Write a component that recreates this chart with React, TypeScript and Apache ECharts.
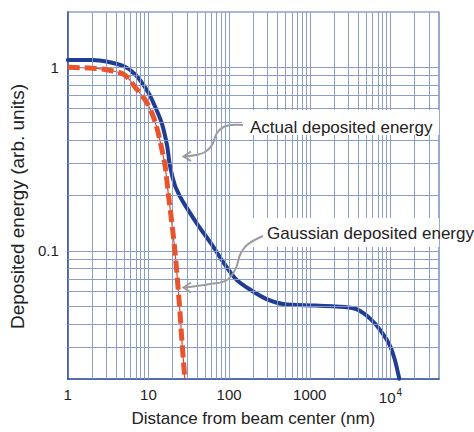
import React, { useEffect, useRef } from 'react';
import * as echarts from 'echarts';

// Actual deposited energy (blue, solid)
const actualX = [1, 2, 3, 5, 7, 10, 12.2, 14.7, 17.1, 18.5, 21.3, 24.6, 28.3, 40.7, 60.3, 86.9, 125, 185, 291, 469, 1183, 3076, 4074, 5864, 7762, 9722, 11200, 12880];
const actualY = [1.096, 1.094, 1.076, 1.012, 0.907, 0.727, 0.605, 0.493, 0.371, 0.29, 0.227, 0.198, 0.178, 0.139, 0.109, 0.0853, 0.0692, 0.0612, 0.0546, 0.0513, 0.0503, 0.0491, 0.0474, 0.0419, 0.0362, 0.0308, 0.026, 0.0201];

// Gaussian deposited energy (red, dashed)
const gaussX = [1, 2, 3, 5, 6.94, 9.19, 11.2, 12.9, 14.4, 16.1, 17.7, 18.8, 21.3, 24.1, 26.2, 28.3];
const gaussY = [1.0, 0.988, 0.97, 0.912, 0.773, 0.66, 0.555, 0.457, 0.371, 0.29, 0.201, 0.163, 0.1, 0.0523, 0.0309, 0.02];

const xTickValues = [1, 10, 100, 1000, 10000];
const xTickLabels = ['1', '10', '100', '1000', '{b|10}{s|4}'];
const yTickValues = [0.1, 1];
const yTickLabels = ['0.1', '1'];

const xGridDecades = [1, 10, 100, 1000, 10000];
const yGridDecades = [0.01, 0.1, 1];
const gridMultipliers = [1, 2, 3, 4, 5, 6, 7, 8, 9];

const FONT = '"Liberation Sans", Arial, Helvetica, sans-serif';

function matchLabel(v: number, values: number[], labels: string[]) {
  const i = values.findIndex((t) => Math.abs(Math.log10(t) - Math.log10(v)) < 1e-6);
  return i >= 0 ? labels[i] : '';
}

export default function App() {
  const ref = useRef<HTMLDivElement>(null);

  useEffect(() => {
    document.body.style.margin = '0';
    if (!ref.current) return;
    const chart = echarts.init(ref.current, undefined, { renderer: 'svg' });

    const xMin = 1, xMax = 40000, yMin = 0.02, yMax = 2;
    const xGrid: number[] = [];
    xGridDecades.forEach((d) => gridMultipliers.forEach((m) => {
      const v = d * m;
      if (v > xMin * 1.0001 && v < xMax * 0.9999) xGrid.push(v);
    }));
    const yGrid: number[] = [];
    yGridDecades.forEach((d) => gridMultipliers.forEach((m) => {
      const v = d * m;
      if (v > yMin * 1.0001 && v < yMax * 0.9999) yGrid.push(v);
    }));

    const axisColor = '#3e5ea5';
    const option: any = {
      animation: false,
      backgroundColor: '#ffffff',
      grid: {
        left: 61, top: 12, width: 378, height: 376,
        show: true, borderColor: '#5672b0', borderWidth: 1.2, backgroundColor: 'transparent',
      },
      xAxis: {
        type: 'log', logBase: 10, min: xMin, max: xMax,
        name: 'Distance from beam center (nm)',
        nameLocation: 'middle', nameGap: 25,
        nameTextStyle: { fontFamily: FONT, fontSize: 17, color: '#222' },
        axisLine: { show: true, onZero: false, lineStyle: { color: axisColor, width: 1.6 } },
        axisTick: { show: false },
        splitLine: { show: false },
        axisLabel: {
          margin: 8, fontFamily: FONT, fontSize: 15, color: '#222',
          showMinLabel: true, showMaxLabel: false,
          formatter: (v: number) => matchLabel(v, xTickValues, xTickLabels),
          rich: {
            b: { fontFamily: FONT, fontSize: 15, color: '#222', lineHeight: 18, verticalAlign: 'bottom' },
            s: { fontFamily: FONT, fontSize: 10, color: '#222', lineHeight: 18, verticalAlign: 'top', padding: [0, 0, 0, 1] },
          },
        },
      },
      yAxis: {
        type: 'log', logBase: 10, min: yMin, max: yMax,
        name: 'Deposited energy (arb. units)',
        nameLocation: 'middle', nameGap: 34,
        nameTextStyle: { fontFamily: FONT, fontSize: 19, color: '#222', padding: [0, 22, 0, 0] },
        axisLine: { show: true, onZero: false, lineStyle: { color: axisColor, width: 1.6 } },
        axisTick: { show: false },
        splitLine: { show: false },
        axisLabel: {
          margin: 9, fontFamily: FONT, fontSize: 15, color: '#222',
          showMinLabel: false, showMaxLabel: false,
          formatter: (v: number) => matchLabel(v, yTickValues, yTickLabels),
        },
      },
      series: [
        {
          name: 'grid', type: 'line', data: [], silent: true, z: 1,
          markLine: {
            silent: true, symbol: ['none', 'none'], animation: false,
            label: { show: false },
            lineStyle: { color: '#8599c9', width: 1, type: 'solid', opacity: 0.95 },
            emphasis: { disabled: true },
            data: [
              ...xGrid.map((v) => ({ xAxis: v })),
              ...yGrid.map((v) => ({ yAxis: v })),
            ],
          },
        },
        {
          name: 'Actual deposited energy', type: 'line', z: 3,
          data: actualX.map((x, i) => [x, actualY[i]]),
          smooth: 0.3, symbol: 'none',
          lineStyle: { color: '#1f3d92', width: 4, cap: 'round', join: 'round' },
        },
        {
          name: 'Gaussian thin', type: 'line', z: 4,
          data: gaussX.map((x, i) => [x, gaussY[i]]),
          smooth: 0.3, symbol: 'none',
          lineStyle: { color: '#d44a2e', width: 1.2 },
        },
        {
          name: 'Gaussian deposited energy', type: 'line', z: 5,
          data: gaussX.map((x, i) => [x, gaussY[i]]),
          smooth: 0.3, symbol: 'none',
          lineStyle: { color: '#e8552c', width: 5, type: [12, 5], cap: 'butt' },
        },
      ],
      graphic: [
        { type: 'rect', z: 100, shape: { x: 242, y: 110, width: 197, height: 25 }, style: { fill: '#fff' } },
        { type: 'rect', z: 100, shape: { x: 247, y: 218, width: 192, height: 29 }, style: { fill: '#fff' } },
        {
          type: 'text', z: 101, x: 250, y: 127,
          style: { text: 'Actual deposited energy', fill: '#222', font: `17px ${FONT}`, verticalAlign: 'middle', align: 'left' },
        },
        {
          type: 'text', z: 101, x: 267, y: 233,
          style: { text: 'Gaussian deposited energy', fill: '#222', font: `17px ${FONT}`, verticalAlign: 'middle', align: 'left' },
        },
        {
          type: 'polyline', z: 101,
          shape: { points: [[243, 125], [226, 126], [217, 133], [212, 145], [205, 152], [196, 155], [184, 156.5]], smooth: 0.4 },
          style: { stroke: '#9b9b9b', lineWidth: 2, fill: 'none' },
        },
        {
          type: 'polyline', z: 101,
          shape: { points: [[191, 151.5], [183.5, 156.5], [191, 161]] },
          style: { stroke: '#9b9b9b', lineWidth: 2, fill: 'none' },
        },
        {
          type: 'polyline', z: 101,
          shape: { points: [[263, 236], [247, 245], [240, 255], [236, 268], [227, 280], [210, 284], [184, 287.5]], smooth: 0.4 },
          style: { stroke: '#9b9b9b', lineWidth: 2, fill: 'none' },
        },
        {
          type: 'polyline', z: 101,
          shape: { points: [[191, 282.5], [183.5, 287.5], [191, 292.5]] },
          style: { stroke: '#9b9b9b', lineWidth: 2, fill: 'none' },
        },
      ],
    };

    chart.setOption(option);
    return () => chart.dispose();
  }, []);

  return <div ref={ref} style={{ width: 474, height: 432 }} />;
}
